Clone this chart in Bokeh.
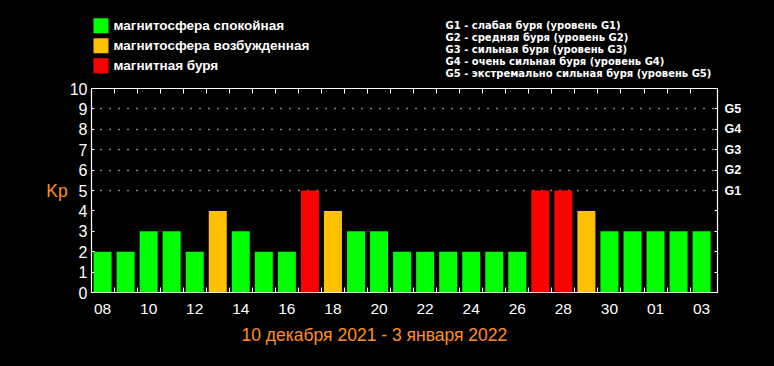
from bokeh.plotting import figure
from bokeh.layouts import column
from bokeh.models import (ColumnDataSource, FixedTicker, LinearAxis, Range1d, Grid, Title)
from bokeh.core.properties import value
from bokeh.embed import file_html
from bokeh.resources import INLINE

# ---- data ----
days = ["08", "09", "10", "11", "12", "13", "14", "15", "16", "17", "18", "19", "20", "21",
        "22", "23", "24", "25", "26", "27", "28", "29", "30", "31", "01", "02", "03"]
kp = [2, 2, 3, 3, 2, 4, 3, 2, 2, 5, 4, 3, 3, 2, 2, 2, 2, 2, 2, 5, 5, 4, 3, 3, 3, 3, 3]
legend_labels = ["магнитосфера спокойная", "магнитосфера возбужденная", "магнитная буря"]
storm_notes = ["G1 - слабая буря (уровень G1)",
               "G2 - средняя буря (уровень G2)",
               "G3 - сильная буря (уровень G3)",
               "G4 - очень сильная буря (уровень G4)",
               "G5 - экстремально сильная буря (уровень G5)"]
g_labels = {5: "G1", 6: "G2", 7: "G3", 8: "G4", 9: "G5"}
period_label = "10 декабря 2021 - 3 января 2022"
y_label = "Kp"

GREEN, ORANGE, RED = "#00FF00", "#FFC000", "#FF0000"
TXT_ORANGE = "#FF9020"
colors = [GREEN, ORANGE, RED]


def level(v):
    return 0 if v <= 3 else (1 if v == 4 else 2)


idx = list(range(len(days)))

LEFT, RIGHT = 91, 57
W = 774

# ---------- header (legend + storm notes) ----------
HH = 80
hdr = figure(width=W, height=HH, output_backend="svg", toolbar_location=None,
             x_range=Range1d(LEFT, W - RIGHT), y_range=Range1d(HH, 0),
             background_fill_color="black", border_fill_color="black",
             min_border_left=LEFT, min_border_right=RIGHT, min_border_top=0, min_border_bottom=0,
             x_axis_location=None, y_axis_location=None)
hdr.outline_line_color = None
hdr.xgrid.visible = False
hdr.ygrid.visible = False

row_y = [25.3 + 20 * k for k in range(3)]
hdr.rect(x=[100.5] * 3, y=row_y, width=15, height=15, fill_color=colors, line_color=None)
hdr.text(x=[113] * 3, y=row_y, text=legend_labels, text_color="white",
         text_font=value("Liberation Sans"), text_font_style="bold",
         text_font_size="13.5px", text_baseline="middle", text_align="left")

note_y = [24.5 + 12 * j for j in range(len(storm_notes))]
hdr.text(x=[445] * len(storm_notes), y=note_y, text=storm_notes, text_color="white",
         text_font=value("DejaVu Sans"), text_font_style="bold",
         text_font_size="10px", text_baseline="middle", text_align="left")

# ---------- main chart ----------
p = figure(width=W, height=286, output_backend="svg", toolbar_location=None,
           x_range=Range1d(-0.48, 26.69), y_range=Range1d(0, 10),
           background_fill_color="black", border_fill_color="black",
           min_border_left=LEFT, min_border_right=RIGHT, min_border_top=8, min_border_bottom=74,
           x_axis_location=None, y_axis_location=None)
p.outline_line_color = "white"
p.outline_line_width = 1.2
p.xgrid.visible = False
p.ygrid.visible = False

for k in range(3):
    xs = [i for i in idx if level(kp[i]) == k]
    ys = [kp[i] for i in xs]
    src = ColumnDataSource(dict(x=xs, top=ys))
    p.vbar(x="x", top="top", bottom=0, width=0.78, source=src,
           fill_color=colors[k], line_color=None)

grid = Grid(dimension=1, ticker=FixedTicker(ticks=[5, 6, 7, 8, 9]),
            grid_line_color="white", grid_line_dash="1 8", grid_line_width=1.3)
p.add_layout(grid, "center")

bottom = LinearAxis(
    ticker=FixedTicker(ticks=idx[::2], minor_ticks=[i + 0.5 for i in idx[:-1]]),
    major_label_overrides={i: days[i] for i in idx[::2]},
    major_tick_line_color=None, minor_tick_line_color="white",
    minor_tick_in=5, minor_tick_out=0, axis_line_color=None,
    major_label_text_color="white", major_label_text_font="Liberation Sans",
    major_label_text_font_size="15.5px", major_label_standoff=5)
p.add_layout(bottom, "below")

top = LinearAxis(
    ticker=FixedTicker(ticks=[], minor_ticks=[i + 0.5 for i in idx[:-1]]),
    major_tick_line_color=None, minor_tick_line_color="white",
    minor_tick_in=5, minor_tick_out=0, axis_line_color=None,
    major_label_text_font_size="0px", major_label_standoff=0)
p.add_layout(top, "above")

left = LinearAxis(
    ticker=FixedTicker(ticks=list(range(11))),
    major_tick_in=3, major_tick_out=0, major_tick_line_color="white",
    minor_tick_line_color=None, axis_line_color=None,
    major_label_text_color="white", major_label_text_font="Liberation Sans",
    major_label_text_font_size="16px", major_label_standoff=4,
    axis_label=y_label, axis_label_orientation="horizontal",
    axis_label_text_color=TXT_ORANGE, axis_label_text_font="Liberation Sans",
    axis_label_text_font_size="17.5px", axis_label_text_font_style="normal",
    axis_label_standoff=-1)
p.add_layout(left, "left")

right = LinearAxis(
    ticker=FixedTicker(ticks=list(range(11))),
    major_label_overrides={i: g_labels.get(i, "") for i in range(11)},
    major_tick_in=3, major_tick_out=0, major_tick_line_color="white",
    minor_tick_line_color=None, axis_line_color=None,
    major_label_text_color="white", major_label_text_font="Liberation Sans",
    major_label_text_font_style="bold",
    major_label_text_font_size="12.5px", major_label_standoff=7)
p.add_layout(right, "right")

period = Title(text=period_label, align="left", offset=150,
               text_color=TXT_ORANGE, text_font="Liberation Sans",
               text_font_size="17.5px", text_font_style="normal", standoff=12)
p.add_layout(period, "below")

layout = column(hdr, p, spacing=0, background="black")
open("out.html", "w").write(file_html(layout, INLINE))
